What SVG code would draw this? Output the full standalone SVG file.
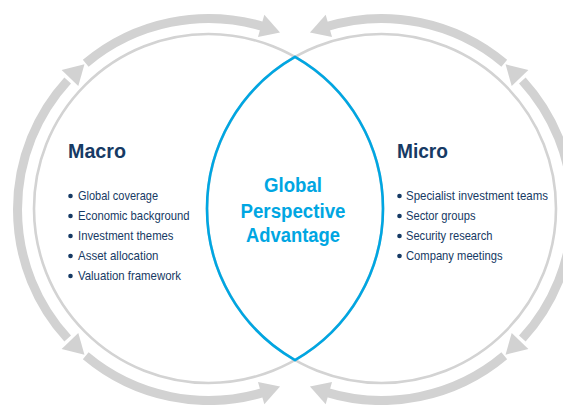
<svg xmlns="http://www.w3.org/2000/svg" width="563" height="405" viewBox="0 0 563 405">
  <style>
    .ring { fill: none; stroke: #d3d3d3; stroke-width: 2.6; }
    .lens { fill: none; stroke: #00a6e2; stroke-width: 2.6; stroke-linejoin: miter; }
    .shaft { fill: none; stroke: #d2d2d2; stroke-width: 9; stroke-linecap: butt; }
    .head { fill: #d2d2d2; }
    .title { font-family: "Liberation Sans", Arial, sans-serif; font-weight: bold; font-size: 20.5px; fill: #163a64; }
    .item { font-family: "Liberation Sans", Arial, sans-serif; font-size: 12.2px; fill: #163a64; }
    .dot { fill: #163a64; }
    .centre { font-family: "Liberation Sans", Arial, sans-serif; font-weight: bold; font-size: 19.5px; fill: #00a6e2; text-anchor: middle; }
  </style>

  <!-- circular flow arrows around both circles -->
  <g id="connectors">
    <!-- left circle: top, side (double-headed) and bottom arcs -->
    <path class="shaft" d="M85.73,63.19 A191,191 0 0 1 264.34,26.85"/>
    <polygon class="head" points="264.32,14.84 280.05,32.41 257.98,36.95"/>
    <path class="shaft" d="M85.73,355.81 A191,191 0 0 0 264.34,392.15"/>
    <polygon class="head" points="264.32,404.16 280.05,386.59 257.98,382.05"/>
    <path class="shaft" d="M67.68,80.46 A191,191 0 0 0 67.68,338.54"/>
    <polygon class="head" points="61.61,70.11 84.46,64.26 78.30,85.94"/>
    <polygon class="head" points="61.61,348.89 84.46,354.74 78.30,333.06"/>

    <!-- right circle: mirrored arcs -->
    <path class="shaft" d="M504.27,63.19 A191,191 0 0 0 325.66,26.85"/>
    <polygon class="head" points="325.68,14.84 309.95,32.41 332.02,36.95"/>
    <path class="shaft" d="M504.27,355.81 A191,191 0 0 1 325.66,392.15"/>
    <polygon class="head" points="325.68,404.16 309.95,386.59 332.02,382.05"/>
    <path class="shaft" d="M522.32,80.46 A191,191 0 0 1 522.32,338.54"/>
    <polygon class="head" points="528.39,70.11 505.54,64.26 511.70,85.94"/>
    <polygon class="head" points="528.39,348.89 505.54,354.74 511.70,333.06"/>
  </g>

  <g id="macro">
    <circle class="ring" cx="208.5" cy="208.5" r="174.5"/>
    <text class="title" x="68" y="158" textLength="58" lengthAdjust="spacingAndGlyphs">Macro</text>
    <circle class="dot" cx="70.5" cy="196" r="2.3"/>
    <circle class="dot" cx="70.5" cy="216" r="2.3"/>
    <circle class="dot" cx="70.5" cy="236" r="2.3"/>
    <circle class="dot" cx="70.5" cy="256" r="2.3"/>
    <circle class="dot" cx="70.5" cy="276" r="2.3"/>
    <text class="item" x="78" y="200" textLength="80" lengthAdjust="spacingAndGlyphs">Global coverage</text>
    <text class="item" x="78" y="220" textLength="111.5" lengthAdjust="spacingAndGlyphs">Economic background</text>
    <text class="item" x="78" y="240" textLength="95.5" lengthAdjust="spacingAndGlyphs">Investment themes</text>
    <text class="item" x="78" y="260" textLength="80.5" lengthAdjust="spacingAndGlyphs">Asset allocation</text>
    <text class="item" x="78" y="280" textLength="103" lengthAdjust="spacingAndGlyphs">Valuation framework</text>
  </g>

  <g id="micro">
    <circle class="ring" cx="381.5" cy="208.5" r="174.5"/>
    <text class="title" x="397" y="158" textLength="51" lengthAdjust="spacingAndGlyphs">Micro</text>
    <circle class="dot" cx="399.5" cy="196" r="2.3"/>
    <circle class="dot" cx="399.5" cy="216" r="2.3"/>
    <circle class="dot" cx="399.5" cy="236" r="2.3"/>
    <circle class="dot" cx="399.5" cy="256" r="2.3"/>
    <text class="item" x="406" y="200" textLength="142" lengthAdjust="spacingAndGlyphs">Specialist investment teams</text>
    <text class="item" x="406" y="220" textLength="69.5" lengthAdjust="spacingAndGlyphs">Sector groups</text>
    <text class="item" x="406" y="240" textLength="86.5" lengthAdjust="spacingAndGlyphs">Security research</text>
    <text class="item" x="406" y="260" textLength="96.5" lengthAdjust="spacingAndGlyphs">Company meetings</text>
  </g>

  <g id="global-perspective">
    <path class="lens" d="M295,56.95 A174.5,174.5 0 0 1 295,360.05 A174.5,174.5 0 0 1 295,56.95 Z"/>
    <text class="centre" x="293" y="192" textLength="58" lengthAdjust="spacingAndGlyphs">Global</text>
    <text class="centre" x="293" y="217.5" textLength="105" lengthAdjust="spacingAndGlyphs">Perspective</text>
    <text class="centre" x="293" y="242" textLength="94" lengthAdjust="spacingAndGlyphs">Advantage</text>
  </g>
</svg>
